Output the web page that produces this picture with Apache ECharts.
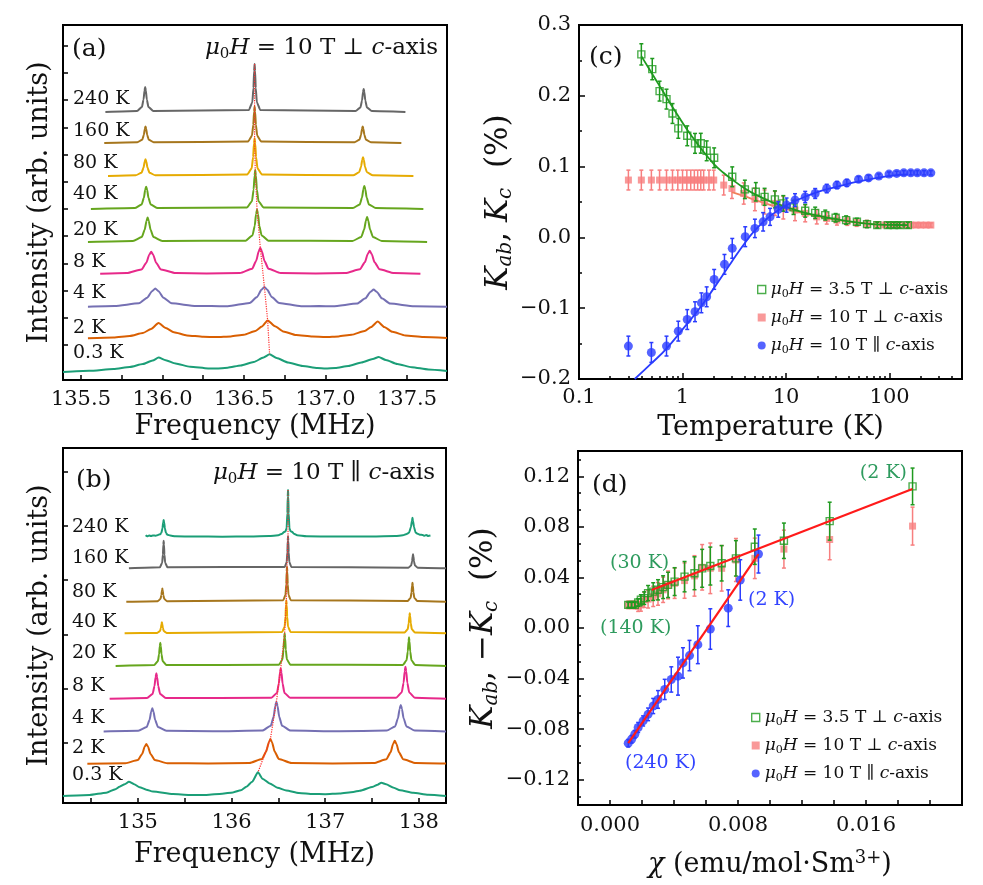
<!DOCTYPE html>
<html><head><meta charset="utf-8">
<script src="https://cdn.jsdelivr.net/npm/echarts@6/dist/echarts.min.js"></script>
<style>html,body{margin:0;padding:0;background:#fff}#c{width:983px;height:885px}</style>
</head><body><div id="c"></div><script>
// ---------- Panel (a): NMR spectra, H ⊥ c (frequency MHz, intensity arb. units) ----------
const labelsA = ['240 K','160 K','80 K','40 K','20 K','8 K','4 K','2 K','0.3 K'];
const offsetsA = [268, 237, 204, 171, 138, 106, 73, 41, 8];
const colorsA = ['#666666','#a6761d','#e6ab02','#66a61e','#66a61e','#e7298a','#7570b3','#d95f02','#1b9e77'];
const centersA = [136.565, 136.565, 136.565, 136.569, 136.58, 136.60, 136.625, 136.645, 136.657];
const centerHeightsA = [48, 36.6, 37.7, 39, 32.4, 26.3, 20, 18.6, 17.7];
const specA240 = [[135.65,0],[135.844,1],[135.874,5],[135.884,12.5],[135.890,21.5],[135.894,25],[135.898,21.5],[135.904,12.5],[135.914,5],[135.944,1],[136.530,2],[136.551,9.6],[136.558,24],[136.562,41],[136.565,48],[136.568,41],[136.572,24],[136.579,9.6],[136.600,2],[137.184,0.9],[137.214,4.6],[137.224,11.5],[137.230,20],[137.234,23],[137.238,20],[137.244,11.5],[137.254,4.6],[137.284,0.9],[137.49,0]];
const specA160 = [[135.643,0],[135.846,0.7],[135.876,3.3],[135.886,8.3],[135.892,14.3],[135.896,16.6],[135.900,14.3],[135.906,8.3],[135.916,3.3],[135.946,0.7],[136.525,1.5],[136.549,7.3],[136.557,18.3],[136.562,31.5],[136.565,36.6],[136.568,31.5],[136.573,18.3],[136.581,7.3],[136.605,1.5],[137.178,0.7],[137.208,3.3],[137.218,8.3],[137.224,14.3],[137.228,16.6],[137.232,14.3],[137.238,8.3],[137.248,3.3],[137.278,0.7],[137.465,0]];
const specA80 = [[135.666,0],[135.836,0.7],[135.872,3.3],[135.884,8.4],[135.891,14.4],[135.896,16.7],[135.901,14.4],[135.908,8.4],[135.920,3.3],[135.956,0.7],[136.520,1.5],[136.547,7.5],[136.556,18.9],[136.561,32.4],[136.565,37.7],[136.569,32.4],[136.574,18.9],[136.583,7.5],[136.610,1.5],[137.170,0.7],[137.206,3.7],[137.218,9.4],[137.225,16.1],[137.230,18.7],[137.235,16.1],[137.242,9.4],[137.254,3.7],[137.290,0.7],[137.539,0]];
const specA40 = [[135.561,0],[135.830,0.9],[135.872,4.5],[135.886,11.2],[135.894,19.2],[135.900,22.3],[135.906,19.2],[135.914,11.2],[135.928,4.5],[135.970,0.9],[136.519,1.6],[136.549,7.8],[136.559,19.5],[136.565,33.5],[136.569,39],[136.573,33.5],[136.579,19.5],[136.589,7.8],[136.619,1.6],[137.168,0.9],[137.210,4.6],[137.224,11.5],[137.232,19.8],[137.238,23],[137.244,19.8],[137.252,11.5],[137.266,4.6],[137.308,0.9],[137.60,0]];
const specA20 = [[135.543,0],[135.819,1],[135.873,4.9],[135.891,12.2],[135.902,21],[135.909,24.4],[135.916,21],[135.927,12.2],[135.945,4.9],[135.999,1],[136.510,1.3],[136.552,6.5],[136.566,16.2],[136.574,27.9],[136.580,32.4],[136.586,27.9],[136.594,16.2],[136.608,6.5],[136.650,1.3],[137.165,1],[137.219,5],[137.237,12.5],[137.248,21.5],[137.255,25],[137.262,21.5],[137.273,12.5],[137.291,5],[137.345,1],[137.623,0]];
const specA8 = [[135.618,0.2],[135.781,0.9],[135.871,4.5],[135.901,11.2],[135.919,19.2],[135.931,22.3],[135.943,19.2],[135.961,11.2],[135.991,4.5],[136.081,0.9],[136.27,0.6],[136.475,1.1],[136.550,5.3],[136.575,13.2],[136.590,22.6],[136.600,26.3],[136.610,22.6],[136.625,13.2],[136.650,5.3],[136.725,1.1],[136.94,0.6],[137.121,0.9],[137.211,4.7],[137.241,11.7],[137.259,20],[137.271,23.3],[137.283,20],[137.301,11.7],[137.331,4.7],[137.421,0.9],[137.582,0.2]];
const specA4 = [[135.543,0.3],[135.706,0.9],[135.856,3.7],[135.906,9.2],[135.936,15.8],[135.956,18.4],[135.976,15.8],[136.006,9.2],[136.056,3.7],[136.206,0.9],[136.30,0.9],[136.400,0.8],[136.535,4],[136.580,10],[136.607,17.2],[136.625,20],[136.643,17.2],[136.670,10],[136.715,4],[136.850,0.8],[136.96,0.9],[137.045,0.7],[137.195,3.5],[137.245,8.7],[137.275,15],[137.295,17.4],[137.315,15],[137.345,8.7],[137.395,3.5],[137.545,0.7],[137.745,0.3]];
const specA2 = [[135.543,0.8],[135.70,1.6],[135.80,3.0],[135.88,6.0],[135.93,10.0],[135.976,16.0],[136.02,11.0],[136.07,6.8],[136.15,3.6],[136.25,2.2],[136.33,1.9],[136.42,2.6],[136.50,4.2],[136.57,8.0],[136.61,12.5],[136.645,18.6],[136.69,12.8],[136.74,7.6],[136.82,4.0],[136.92,2.4],[137.00,2.0],[137.08,2.6],[137.16,4.2],[137.24,8.0],[137.28,12.0],[137.32,17.6],[137.36,12.0],[137.41,7.2],[137.49,3.6],[137.60,2.0],[137.745,1.0]];
const specA03 = [[135.39,0],[135.55,1.2],[135.70,3.0],[135.80,5.0],[135.88,8.0],[135.94,11.5],[135.976,14.4],[136.02,11.8],[136.08,8.5],[136.17,5.3],[136.28,3.6],[136.33,3.4],[136.40,4.3],[136.48,6.5],[136.56,10.0],[136.62,14.5],[136.657,17.7],[136.70,14.0],[136.77,9.5],[136.86,6.0],[136.95,4.0],[137.00,3.5],[137.06,4.0],[137.14,6.0],[137.22,9.5],[137.29,13.0],[137.326,15.0],[137.37,12.0],[137.44,8.0],[137.53,4.8],[137.63,2.5],[137.745,1.0]];
const spectraA = [specA240, specA160, specA80, specA40, specA20, specA8, specA4, specA2, specA03];

// ---------- Panel (b): NMR spectra, H ∥ c ----------
const labelsB = ['240 K','160 K','80 K','40 K','20 K','8 K','4 K','2 K','0.3 K'];
const offsetsB = [266.3, 234.7, 201.3, 169.7, 137, 104, 71.3, 39, 6.3];
const colorsB = ['#1b9e77','#666666','#a6761d','#e6ab02','#66a61e','#e7298a','#7570b3','#d95f02','#1b9e77'];
const centersB = [136.603, 136.603, 136.592, 136.585, 136.567, 136.525, 136.479, 136.415, 136.282];
const centerHeightsB = [46.7, 32, 35, 33, 32.7, 30.7, 30, 25, 24.4];
const specB240 = [[135.082,1.5],[135.10,0.5],[135.12,1.3],[135.14,0.6],[135.16,1.2],[135.19,1.0],[135.215,1.8],[135.235,2.4],[135.250,3.6],[135.262,8.4],[135.270,14.4],[135.275,16.7],[135.280,14.4],[135.288,8.4],[135.300,3.6],[135.315,2.0],[135.345,1.2],[135.40,0.4],[135.6,0.2],[135.9,0.0],[136.2,0.2],[136.40,0.6],[136.50,1.5],[136.54,3.0],[136.56,4.8],[136.575,5.2],[136.588,8.5],[136.596,23.4],[136.600,40],[136.603,46.7],[136.606,40],[136.610,23.4],[136.618,8.5],[136.630,5.4],[136.645,5.0],[136.665,3.0],[136.70,1.5],[136.80,0.5],[137.1,0.1],[137.5,0.2],[137.75,0.6],[137.83,1.4],[137.870,2.8],[137.895,4.0],[137.915,9.5],[137.927,16.3],[137.932,19],[137.937,16.3],[137.949,9.5],[137.965,4.2],[137.985,3.0],[138.01,2.0],[138.04,1.8],[138.06,0.9],[138.08,1.6],[138.10,0.8],[138.124,1.2]];
const specB160 = [[134.904,0],[135.235,1.1],[135.259,5.5],[135.267,13.8],[135.272,23.7],[135.275,27.6],[135.278,23.7],[135.283,13.8],[135.291,5.5],[135.315,1.1],[136.568,1.3],[136.589,6.4],[136.596,16],[136.600,27.5],[136.603,32],[136.606,27.5],[136.610,16],[136.617,6.4],[136.638,1.3],[137.888,0.6],[137.918,2.8],[137.928,7],[137.934,12],[137.938,14],[137.942,12],[137.948,7],[137.958,2.8],[137.988,0.6],[138.29,0]];
const specB80 = [[134.876,0],[135.211,0.5],[135.241,2.7],[135.251,6.7],[135.257,11.4],[135.261,13.3],[135.265,11.4],[135.271,6.7],[135.281,2.7],[135.311,0.5],[136.552,1.4],[136.576,7],[136.584,17.5],[136.589,30.1],[136.592,35],[136.595,30.1],[136.600,17.5],[136.608,7],[136.632,1.4],[137.882,0.8],[137.912,3.8],[137.922,9.5],[137.928,16.3],[137.932,19],[137.936,16.3],[137.942,9.5],[137.952,3.8],[137.982,0.8],[138.29,0]];
const specB40 = [[134.858,0],[135.206,0.4],[135.236,2.2],[135.246,5.5],[135.252,9.5],[135.256,11],[135.260,9.5],[135.266,5.5],[135.276,2.2],[135.306,0.4],[136.540,1.3],[136.567,6.6],[136.576,16.5],[136.581,28.4],[136.585,33],[136.589,28.4],[136.594,16.5],[136.603,6.6],[136.630,1.3],[137.848,0.8],[137.881,4],[137.892,10],[137.899,17.2],[137.903,20],[137.907,17.2],[137.914,10],[137.925,4],[137.958,0.8],[138.29,0]];
const specB20 = [[134.762,0],[135.174,0.9],[135.213,4.7],[135.226,11.7],[135.234,20],[135.239,23.3],[135.244,20],[135.252,11.7],[135.265,4.7],[135.304,0.9],[136.507,1.3],[136.543,6.5],[136.555,16.4],[136.562,28.1],[136.567,32.7],[136.572,28.1],[136.579,16.4],[136.591,6.5],[136.627,1.3],[137.830,1.1],[137.869,5.7],[137.882,14.4],[137.890,24.7],[137.895,28.7],[137.900,24.7],[137.908,14.4],[137.921,5.7],[137.960,1.1],[138.29,0]];
const specB8 = [[134.698,0.2],[135.097,1],[135.157,5.1],[135.177,12.9],[135.189,22.1],[135.197,25.7],[135.205,22.1],[135.217,12.9],[135.237,5.1],[135.297,1],[136.425,1.2],[136.485,6.1],[136.505,15.4],[136.517,26.4],[136.525,30.7],[136.533,26.4],[136.545,15.4],[136.565,6.1],[136.625,1.2],[137.757,1.3],[137.817,6.5],[137.837,16.2],[137.849,27.8],[137.857,32.3],[137.865,27.8],[137.877,16.2],[137.897,6.5],[137.957,1.3],[138.29,0.2]];
const specB4 = [[134.634,0.3],[135.004,0.9],[135.094,4.7],[135.124,11.7],[135.142,20.1],[135.154,23.4],[135.166,20.1],[135.184,11.7],[135.214,4.7],[135.304,0.9],[135.80,0.4],[136.329,1.2],[136.419,6],[136.449,15],[136.467,25.8],[136.479,30],[136.491,25.8],[136.509,15],[136.539,6],[136.629,1.2],[137.15,0.4],[137.657,1.1],[137.747,5.3],[137.777,13.4],[137.795,23],[137.807,26.7],[137.819,23],[137.837,13.4],[137.867,5.3],[137.957,1.1],[138.29,0.3]];
const specB2 = [[134.46,0.3],[134.865,0.8],[135.000,4],[135.045,10],[135.072,17.2],[135.090,20],[135.108,17.2],[135.135,10],[135.180,4],[135.315,0.8],[135.75,0.6],[136.190,1],[136.325,5],[136.370,12.5],[136.397,21.5],[136.415,25],[136.433,21.5],[136.460,12.5],[136.505,5],[136.640,1],[137.08,0.6],[137.518,0.9],[137.653,4.7],[137.698,11.7],[137.725,20],[137.743,23.3],[137.761,20],[137.788,11.7],[137.833,4.7],[137.968,0.9],[138.29,0.4]];
const specB03 = [[134.199,0.7],[134.484,1.7],[134.662,4],[134.76,7.5],[134.804,10],[134.86,12.5],[134.904,15],[134.96,12.5],[135.018,9.5],[135.09,7],[135.160,5.2],[135.374,2.7],[135.55,1.8],[135.731,1.8],[135.90,3],[136.015,4.3],[136.10,6.5],[136.158,10],[136.22,15],[136.282,24.4],[136.33,18],[136.407,13.3],[136.49,9],[136.585,6.2],[136.72,3.8],[136.87,2.7],[137.0,2.5],[137.155,3.2],[137.30,4.8],[137.369,6],[137.511,10],[137.56,12],[137.60,14],[137.65,12.5],[137.724,9.3],[137.80,6.5],[137.938,4],[138.10,2],[138.29,0.7]];
const spectraB = [specB240, specB160, specB80, specB40, specB20, specB8, specB4, specB2, specB03];

// ---------- Panel (c): Knight shift vs temperature ----------
const T_g = [0.40,0.51,0.60,0.70,0.80,0.91,1.11,1.32,1.50,1.71,2.02,3.02,4.0,5.1,6.2,7.8,9.4,11.8,15.3,19.1,23.9,30.1,38,48.3,60.5,76,96,110,125,150];
const K_g = [0.2585,0.2377,0.2066,0.1953,0.175,0.154,0.1435,0.1328,0.133,0.1223,0.1124,0.0856,0.0678,0.0644,0.0573,0.0537,0.048,0.0424,0.0376,0.0347,0.0315,0.0277,0.0244,0.022,0.0188,0.0174,0.0174,0.0174,0.0174,0.0174];
const E_g = [0.015,0.015,0.014,0.014,0.014,0.014,0.014,0.014,0.014,0.014,0.014,0.014,0.013,0.013,0.012,0.012,0.011,0.010,0.009,0.008,0.007,0.006,0.006,0.005,0.005,0.004,0.004,0.004,0.004,0.004];
const T_p = [0.3,0.4,0.5,0.6,0.7,0.8,0.9,1.0,1.1,1.2,1.3,1.4,1.5,1.6,1.8,2.0,2.5,3.0,3.9,5.0,6.2,7.8,9.4,12.2,15.3,19.8,24.7,31,39,48,60,76,90,105,120,140,160,180,200,225,250];
const K_p = [0.081,0.081,0.081,0.081,0.081,0.081,0.081,0.081,0.081,0.081,0.081,0.081,0.081,0.081,0.081,0.081,0.0739,0.069,0.062,0.0537,0.050,0.048,0.042,0.0386,0.034,0.029,0.0268,0.0244,0.023,0.0206,0.019,0.018,0.0176,0.0175,0.0174,0.0174,0.0174,0.0174,0.0174,0.0174,0.0174];
const E_p = [0.014,0.014,0.014,0.014,0.014,0.014,0.014,0.014,0.014,0.014,0.014,0.014,0.014,0.014,0.014,0.014,0.014,0.014,0.015,0.016,0.017,0.017,0.016,0.015,0.012,0.010,0.008,0.007,0.006,0.005,0.005,0.004,0.003,0.003,0.003,0.003,0.003,0.003,0.003,0.003,0.003];
const T_b = [0.30,0.50,0.70,0.91,1.11,1.32,1.52,1.71,2.02,2.54,3.02,4.03,5.0,6.0,7.0,8.4,10.1,12.2,15.3,19.1,24.7,31,38.6,50.1,62.6,78.6,98.6,117,137,160,185,215,250];
const K_b = [-0.1535,-0.1625,-0.1535,-0.1324,-0.116,-0.105,-0.0924,-0.0839,-0.0593,-0.0381,-0.0155,0.001,0.0127,0.022,0.029,0.0395,0.0456,0.0527,0.057,0.062,0.069,0.0739,0.077,0.082,0.084,0.0866,0.0894,0.0904,0.0912,0.0912,0.0912,0.0912,0.0912];
const E_b = [0.014,0.014,0.014,0.014,0.014,0.014,0.014,0.014,0.014,0.014,0.014,0.014,0.013,0.013,0.012,0.011,0.010,0.009,0.008,0.007,0.006,0.005,0.005,0.004,0.004,0.003,0.003,0.003,0.003,0.003,0.003,0.003,0.003];
const fitT_g = [0.40,0.5,0.6,0.7,0.8,1.0,1.2,1.5,2.0,2.5,3.0,4.0,5.0,7.0,10,15,20,30,50,80,120,150];
const fitK_g = [0.256,0.233,0.214,0.198,0.184,0.162,0.145,0.126,0.104,0.091,0.082,0.069,0.061,0.051,0.043,0.035,0.031,0.026,0.021,0.018,0.0175,0.0172];
const fitT_p = [3,4,5,7,10,15,20,30,50,80,120,150];
const fitK_p = [0.064,0.058,0.053,0.046,0.040,0.034,0.030,0.025,0.021,0.018,0.0175,0.0172];
const fitT_b = [0.345,0.5,0.7,1.0,1.5,2.0,3.0,4.0,5.0,7.0,10,15,20,30,50,100,150];
const fitK_b = [-0.200,-0.178,-0.157,-0.130,-0.098,-0.072,-0.034,-0.008,0.010,0.030,0.045,0.057,0.064,0.071,0.079,0.087,0.089];
const minorT = [0.2,0.3,0.4,0.5,0.6,0.7,0.8,0.9,2,3,4,5,6,7,8,9,20,30,40,50,60,70,80,90,200,300,400];

// ---------- Panel (d): K vs chi ----------
const chi_g = [0.01891,0.01373,0.01087,0.00905,0.00787,0.00698,0.00627,0.00576,0.00528,0.00466,0.00404,0.00363,0.00332,0.0030,0.0027,0.00238,0.00214,0.00193,0.00176,0.00155,0.00135,0.00114];
const Kd_g = [0.112,0.0845,0.069,0.0643,0.0551,0.0512,0.049,0.0472,0.0433,0.0406,0.0367,0.0341,0.0323,0.0302,0.0288,0.0276,0.0236,0.0223,0.0202,0.0183,0.0183,0.0183];
const Ed_g = [0.0145,0.015,0.014,0.014,0.014,0.014,0.015,0.015,0.013,0.012,0.011,0.010,0.009,0.008,0.007,0.006,0.005,0.004,0.003,0.002,0.002,0.002];
const chi_p = [0.01891,0.01373,0.01087,0.00905,0.00787,0.00698,0.00627,0.00576,0.00528,0.00466,0.00404,0.00363,0.00332,0.0030,0.0027,0.00238,0.00214,0.00193,0.00176,0.00155,0.00135,0.00114];
const Kd_p = [0.0806,0.070,0.0624,0.0551,0.0538,0.0472,0.0472,0.048,0.0412,0.0375,0.0354,0.0341,0.0302,0.027,0.025,0.0228,0.0223,0.0183,0.0171,0.0183,0.0183,0.0183];
const Ed_p = [0.015,0.016,0.015,0.016,0.017,0.018,0.02,0.018,0.016,0.014,0.012,0.011,0.010,0.009,0.008,0.007,0.006,0.005,0.004,0.003,0.003,0.003];
const chi_b = [0.00928,0.00814,0.00739,0.00627,0.00549,0.00497,0.00456,0.00425,0.00383,0.00342,0.0030,0.0027,0.00238,0.00207,0.00176,0.00155,0.00135,0.00114];
const Kd_b = [0.0585,0.038,0.0157,-0.0008,-0.0132,-0.0218,-0.0276,-0.0381,-0.0407,-0.0486,-0.0565,-0.0617,-0.0683,-0.0735,-0.0787,-0.084,-0.088,-0.0911];
const Ed_b = [0.015,0.016,0.0145,0.016,0.015,0.012,0.012,0.015,0.010,0.008,0.007,0.006,0.005,0.004,0.004,0.003,0.003,0.003];
const fitChiA = [0.0026, 0.0189];
const fitKA = [0.030, 0.110];
const fitChiB = [0.00114, 0.00928];
const fitKB = [-0.0911, 0.0585];

// tick values
const ticksXA = [135.5,135.75,136,136.25,136.5,136.75,137,137.25,137.5];
const labelsXA = [135.5,136,136.5,137,137.5];
const ticksXB = [134.5,135,135.5,136,136.5,137,137.5,138];
const labelsXB = [135,136,137,138];
const ticksYA = [35,62.2,89.4,116.6,143.8,171,198.2,225.4,252.6,279.8,307,334.2];
const ticksYB = [60.3,114.5,168.7,222.9,277.1,331.3];
const majorYD = [-0.12,-0.08,-0.04,0,0.04,0.08,0.12];
const minorYD = [-0.1333,-0.1067,-0.0933,-0.0667,-0.0533,-0.0267,-0.0133,0.0133,0.0267,0.0533,0.0667,0.0933,0.1067,0.1333];
const labelsXD = [0, 0.008, 0.016];

// ---------- styles ----------
const F = 'DejaVu Serif';
const GREEN = '#1f9a1f', PINK = '#f77f7f', BLUE = '#2a3cff', RED = '#ff1a1a';
const TXT_GREEN = '#2e9b5e', TXT_BLUE = '#3344ff';
const fmtMinus = (v, n) => Math.abs(v) < 1e-9 ? (0).toFixed(n) : (v < 0 ? '\u2212' : '') + Math.abs(v).toFixed(n);
const zip3 = (a, b, c) => a.map((x, i) => [x, b[i], c[i]]);
const zip2 = (a, b) => a.map((x, i) => [x, b[i]]);

const tickStyle = (len) => ({show: true, inside: true, length: len, lineStyle: {color: '#000', width: 1.5}});
const labelStyle = {fontFamily: F, fontSize: 21, color: '#111'};
const noLine = {show: false, onZero: false};

function errBars(color, xi, yi, data, z) {
  return {
    type: 'custom', xAxisIndex: xi, yAxisIndex: yi, z: z, silent: true,
    encode: {x: 0, y: 1},
    data: data,
    renderItem: function (params, api) {
      const x = api.value(0), y = api.value(1), e = api.value(2);
      const p1 = api.coord([x, y + e]), p2 = api.coord([x, y - e]);
      const st = {stroke: color, lineWidth: 1.5};
      return {type: 'group', children: [
        {type: 'line', shape: {x1: p1[0], y1: p1[1], x2: p2[0], y2: p2[1]}, style: st},
        {type: 'line', shape: {x1: p1[0] - 2, y1: p1[1], x2: p1[0] + 2, y2: p1[1]}, style: st},
        {type: 'line', shape: {x1: p2[0] - 2, y1: p2[1], x2: p2[0] + 2, y2: p2[1]}, style: st}
      ]};
    }
  };
}

const series = [];
spectraA.forEach((sp, i) => {
  series.push({type: 'line', xAxisIndex: 0, yAxisIndex: 0, showSymbol: false, smooth: 0.2, smoothMonotone: 'x',
    data: sp.map(p => [p[0], p[1] + offsetsA[i]]), lineStyle: {color: colorsA[i], width: 2}, z: 2, silent: true});
});
series.push({type: 'line', xAxisIndex: 0, yAxisIndex: 0, showSymbol: false, silent: true, z: 5,
  data: centersA.map((c, i) => [c, offsetsA[i] + centerHeightsA[i]]), lineStyle: {color: '#ff3030', width: 1.2, type: 'dotted'}});
spectraB.forEach((sp, i) => {
  series.push({type: 'line', xAxisIndex: 1, yAxisIndex: 1, showSymbol: false, smooth: 0.2, smoothMonotone: 'x',
    data: sp.map(p => [p[0], p[1] + offsetsB[i]]), lineStyle: {color: colorsB[i], width: 2}, z: 2, silent: true});
});
series.push({type: 'line', xAxisIndex: 1, yAxisIndex: 1, showSymbol: false, silent: true, z: 5,
  data: centersB.map((c, i) => [c, offsetsB[i] + centerHeightsB[i]]), lineStyle: {color: '#ff3030', width: 1.2, type: 'dotted'}});

// panel (c)
series.push(errBars(PINK, 2, 2, zip3(T_p, K_p, E_p), 3));
series.push({name: 'c_p', type: 'scatter', xAxisIndex: 2, yAxisIndex: 2, symbol: 'rect', symbolSize: 7, data: zip2(T_p, K_p), itemStyle: {color: PINK}, z: 4});
series.push({type: 'line', xAxisIndex: 2, yAxisIndex: 2, showSymbol: false, smooth: true, data: zip2(fitT_p, fitK_p), lineStyle: {color: '#f0805a', width: 1.8}, z: 4, silent: true});
series.push(errBars(GREEN, 2, 2, zip3(T_g, K_g, E_g), 5));
series.push({name: 'c_g', type: 'scatter', xAxisIndex: 2, yAxisIndex: 2, symbol: 'rect', symbolSize: 7, data: zip2(T_g, K_g), itemStyle: {color: 'rgba(255,255,255,0)', borderColor: GREEN, borderWidth: 1.4}, z: 6});
series.push({type: 'line', xAxisIndex: 2, yAxisIndex: 2, showSymbol: false, smooth: true, data: zip2(fitT_g, fitK_g), lineStyle: {color: GREEN, width: 1.8}, z: 6, silent: true});
series.push(errBars(BLUE, 2, 2, zip3(T_b, K_b, E_b), 7));
series.push({name: 'c_b', type: 'scatter', xAxisIndex: 2, yAxisIndex: 2, symbol: 'circle', symbolSize: 9, data: zip2(T_b, K_b), itemStyle: {color: BLUE}, z: 8});
series.push({type: 'line', xAxisIndex: 2, yAxisIndex: 2, showSymbol: false, smooth: true, data: zip2(fitT_b, fitK_b), lineStyle: {color: BLUE, width: 1.8}, z: 8, silent: true});

// panel (d)
series.push(errBars(PINK, 4, 3, zip3(chi_p, Kd_p, Ed_p), 3));
series.push({name: 'd_p', type: 'scatter', xAxisIndex: 4, yAxisIndex: 3, symbol: 'rect', symbolSize: 7, data: zip2(chi_p, Kd_p), itemStyle: {color: PINK}, z: 4});
series.push(errBars(GREEN, 4, 3, zip3(chi_g, Kd_g, Ed_g), 5));
series.push({name: 'd_g', type: 'scatter', xAxisIndex: 4, yAxisIndex: 3, symbol: 'rect', symbolSize: 7, data: zip2(chi_g, Kd_g), itemStyle: {color: 'rgba(255,255,255,0)', borderColor: GREEN, borderWidth: 1.4}, z: 6});
series.push(errBars(BLUE, 4, 3, zip3(chi_b, Kd_b, Ed_b), 7));
series.push({name: 'd_b', type: 'scatter', xAxisIndex: 4, yAxisIndex: 3, symbol: 'circle', symbolSize: 9, data: zip2(chi_b, Kd_b), itemStyle: {color: BLUE}, z: 8});
series.push({type: 'line', xAxisIndex: 4, yAxisIndex: 3, showSymbol: false, data: zip2(fitChiA, fitKA), lineStyle: {color: RED, width: 2.2}, z: 9, silent: true});
series.push({type: 'line', xAxisIndex: 4, yAxisIndex: 3, showSymbol: false, data: zip2(fitChiB, fitKB), lineStyle: {color: RED, width: 2.2}, z: 9, silent: true});

const richMath = (fs, color) => ({
  i: {fontFamily: F, fontStyle: 'italic', fontSize: fs, color: color, lineHeight: fs + 4},
  r: {fontFamily: F, fontSize: fs, color: color, lineHeight: fs + 4},
  s: {fontFamily: F, fontStyle: 'normal', fontSize: Math.round(fs * 0.65), color: color, verticalAlign: 'bottom', lineHeight: Math.round(fs * 0.6)},
  si: {fontFamily: F, fontStyle: 'italic', fontSize: Math.round(fs * 0.65), color: color, verticalAlign: 'bottom', lineHeight: Math.round(fs * 0.6)},
  sup: {fontFamily: F, fontSize: Math.round(fs * 0.65), color: color, verticalAlign: 'top', lineHeight: Math.round(fs * 0.6)}
});
const legendText = {
  g: '{i|\u03bc}{s|0}{i|H}{r| = 3.5 T \u22a5 }{i|c}{r|-axis}',
  p: '{i|\u03bc}{s|0}{i|H}{r| = 10 T \u22a5 }{i|c}{r|-axis}',
  b: '{i|\u03bc}{s|0}{i|H}{r| = 10 T \u2225 }{i|c}{r|-axis}'
};
const legendCfg = (names, left, top) => ({
  data: names, orient: 'vertical', left: left, top: top, itemWidth: 8, itemHeight: 8, itemGap: 7,
  selectedMode: false, padding: 0, itemStyle: {borderWidth: 1.4},
  formatter: n => legendText[n.slice(2)],
  textStyle: {fontFamily: F, fontSize: 17, color: '#111', lineHeight: 20, rich: richMath(17, '#111')}
});

function txt(x, y, text, opts) {
  return Object.assign({type: 'text', x: x, y: y, silent: true, z: 100,
    style: Object.assign({text: text, fill: '#111', font: '18px "DejaVu Serif"', align: 'left', verticalAlign: 'middle', textAlign: 'left', textVerticalAlign: 'middle'}, opts || {})});
}
const graphics = [];
const labelYA = [99, 131, 163, 194, 230, 262, 293, 328, 353];
const labelYB = [527, 558, 592, 622, 653, 686, 718, 748, 775];
labelsA.forEach((l, i) => graphics.push(txt(73, labelYA[i], l, {font: '19px "DejaVu Serif"'})));
labelsB.forEach((l, i) => graphics.push(txt(72, labelYB[i], l, {font: '19px "DejaVu Serif"'})));
graphics.push(txt(72, 49, '(a)', {font: '25px "DejaVu Serif"'}));
graphics.push(txt(76, 480, '(b)', {font: '25px "DejaVu Serif"'}));
graphics.push(txt(589, 57, '(c)', {font: '25px "DejaVu Serif"'}));
graphics.push(txt(592, 485, '(d)', {font: '25px "DejaVu Serif"'}));
const zrRich = (fs) => ({
  i: {fontFamily: F, fontStyle: 'italic', fontSize: fs, fill: '#111', lineHeight: fs + 4},
  r: {fontFamily: F, fontSize: fs, fill: '#111', lineHeight: fs + 4},
  s: {fontFamily: F, fontSize: Math.round(fs * 0.65), fill: '#111', verticalAlign: 'bottom', lineHeight: Math.round(fs * 0.6)}
});
graphics.push(txt(438, 48, '{i|\u03bc}{s|0}{i|H}{r| = 10 T \u22a5 }{i|c}{r|-axis}', {align: 'right', textAlign: 'right', rich: zrRich(23)}));
graphics.push(txt(435, 473, '{i|\u03bc}{s|0}{i|H}{r| = 10 T \u2225 }{i|c}{r|-axis}', {align: 'right', textAlign: 'right', rich: zrRich(23)}));
graphics.push(txt(907, 473, '(2 K)', {align: 'right', textAlign: 'right', fill: TXT_GREEN, font: '19px "DejaVu Serif"'}));
graphics.push(txt(610, 563, '(30 K)', {fill: TXT_GREEN, font: '19px "DejaVu Serif"'}));
graphics.push(txt(600, 628, '(140 K)', {fill: TXT_GREEN, font: '19px "DejaVu Serif"'}));
graphics.push(txt(748, 600, '(2 K)', {fill: TXT_BLUE, font: '19px "DejaVu Serif"'}));
graphics.push(txt(625, 763, '(240 K)', {fill: TXT_BLUE, font: '19px "DejaVu Serif"'}));

const gridBase = {show: true, borderColor: '#000', borderWidth: 2, backgroundColor: 'transparent', containLabel: false};
const nameStyleX = {fontFamily: F, fontSize: 27, color: '#111'};
const option = {
  animation: false,
  backgroundColor: '#fff',
  grid: [
    Object.assign({left: 63, top: 25, width: 384, height: 355}, gridBase),
    Object.assign({left: 63, top: 448, width: 383, height: 355}, gridBase),
    Object.assign({left: 579, top: 25, width: 383, height: 354}, gridBase),
    Object.assign({left: 578, top: 451, width: 384, height: 354}, gridBase)
  ],
  xAxis: [
    {gridIndex: 0, type: 'value', position: 'bottom', min: 135.39, max: 137.745, splitLine: {show: false}, axisLine: noLine,
      axisTick: Object.assign(tickStyle(5), {customValues: ticksXA}),
      axisLabel: Object.assign({customValues: labelsXA, margin: 9, formatter: v => v.toFixed(1)}, labelStyle),
      name: 'Frequency (MHz)', nameLocation: 'middle', nameGap: 33, nameTextStyle: nameStyleX},
    {gridIndex: 1, type: 'value', position: 'bottom', min: 134.2, max: 138.29, splitLine: {show: false}, axisLine: noLine,
      axisTick: Object.assign(tickStyle(5), {customValues: ticksXB}),
      axisLabel: Object.assign({customValues: labelsXB, margin: 9, formatter: v => v.toFixed(0)}, labelStyle),
      name: 'Frequency (MHz)', nameLocation: 'middle', nameGap: 38, nameTextStyle: nameStyleX},
    {gridIndex: 2, type: 'log', position: 'bottom', logBase: 10, min: 0.1, max: 500, splitLine: {show: false}, axisLine: noLine,
      axisTick: tickStyle(6), minorTick: {show: false},
      axisLabel: Object.assign({margin: 8, showMaxLabel: false, formatter: v => { const l = Math.log10(v); return Math.abs(l - Math.round(l)) < 1e-6 ? String(+v.toPrecision(3)) : ''; }}, labelStyle),
      name: 'Temperature (K)', nameLocation: 'middle', nameGap: 35, nameTextStyle: nameStyleX},
    {gridIndex: 2, type: 'value', position: 'bottom', min: -1, max: Math.log10(500), splitLine: {show: false}, axisLine: noLine,
      axisTick: Object.assign(tickStyle(3), {customValues: minorT.map(Math.log10)}), axisLabel: {show: false}},
    {gridIndex: 3, type: 'value', position: 'bottom', min: -0.002, max: 0.022, interval: 0.002, splitLine: {show: false}, axisLine: noLine,
      axisTick: tickStyle(5),
      axisLabel: Object.assign({customValues: labelsXD, margin: 10, formatter: v => v.toFixed(3)}, labelStyle),
      name: '{i|\u03c7}{r| (emu/mol\u00b7Sm}{sup|3+}{r|)}', nameLocation: 'middle', nameGap: 44,
      nameTextStyle: {fontFamily: F, fontSize: 27, color: '#111', rich: richMath(27, '#111')}}
  ],
  yAxis: [
    {gridIndex: 0, type: 'value', position: 'left', min: 0, max: 355, splitLine: {show: false}, axisLine: noLine,
      axisTick: Object.assign(tickStyle(5), {customValues: ticksYA}), axisLabel: {show: false},
      name: 'Intensity (arb. units)', nameLocation: 'middle', nameRotate: 90, nameGap: 10,
      nameTextStyle: {fontFamily: F, fontSize: 27, color: '#111'}},
    {gridIndex: 1, type: 'value', position: 'left', min: 0, max: 355, splitLine: {show: false}, axisLine: noLine,
      axisTick: Object.assign(tickStyle(5), {customValues: ticksYB}), axisLabel: {show: false},
      name: 'Intensity (arb. units)', nameLocation: 'middle', nameRotate: 90, nameGap: 10,
      nameTextStyle: {fontFamily: F, fontSize: 27, color: '#111'}},
    {gridIndex: 2, type: 'value', position: 'left', min: -0.2, max: 0.3, interval: 0.1, splitLine: {show: false}, axisLine: noLine,
      axisTick: tickStyle(6), minorTick: {show: true, splitNumber: 2, length: 3, lineStyle: {color: '#000', width: 1.5}},
      minorSplitLine: {show: false},
      axisLabel: Object.assign({margin: 8, formatter: v => fmtMinus(v, 1)}, labelStyle),
      name: '{i|K}{si|ab}{r|, }{i|K}{si|c}{r|  (%)}', nameLocation: 'middle', nameRotate: 90, nameGap: 52,
      nameTextStyle: {fontFamily: F, fontSize: 31, color: '#111', rich: richMath(31, '#111')}},
    {gridIndex: 3, type: 'value', position: 'left', min: -0.14, max: 0.14, splitLine: {show: false}, axisLine: noLine,
      axisTick: Object.assign(tickStyle(6), {customValues: majorYD}),
      axisLabel: Object.assign({customValues: majorYD, margin: 8, formatter: v => fmtMinus(v, 2)}, labelStyle),
      name: '{i|K}{si|ab}{r|, \u2212}{i|K}{si|c}{r|  (%)}', nameLocation: 'middle', nameRotate: 90, nameGap: 64,
      nameTextStyle: {fontFamily: F, fontSize: 31, color: '#111', rich: richMath(31, '#111')}},
    {gridIndex: 3, type: 'value', position: 'left', min: -0.14, max: 0.14, splitLine: {show: false}, axisLine: noLine,
      axisTick: Object.assign(tickStyle(3), {customValues: minorYD}), axisLabel: {show: false}}
  ],
  legend: [legendCfg(['c_g', 'c_p', 'c_b'], 757, 279), legendCfg(['d_g', 'd_p', 'd_b'], 751, 707)],
  graphic: graphics,
  series: series
};
const chart = echarts.init(document.getElementById('c'), null, {renderer: 'canvas'});
chart.setOption(option);
</script></body></html>
